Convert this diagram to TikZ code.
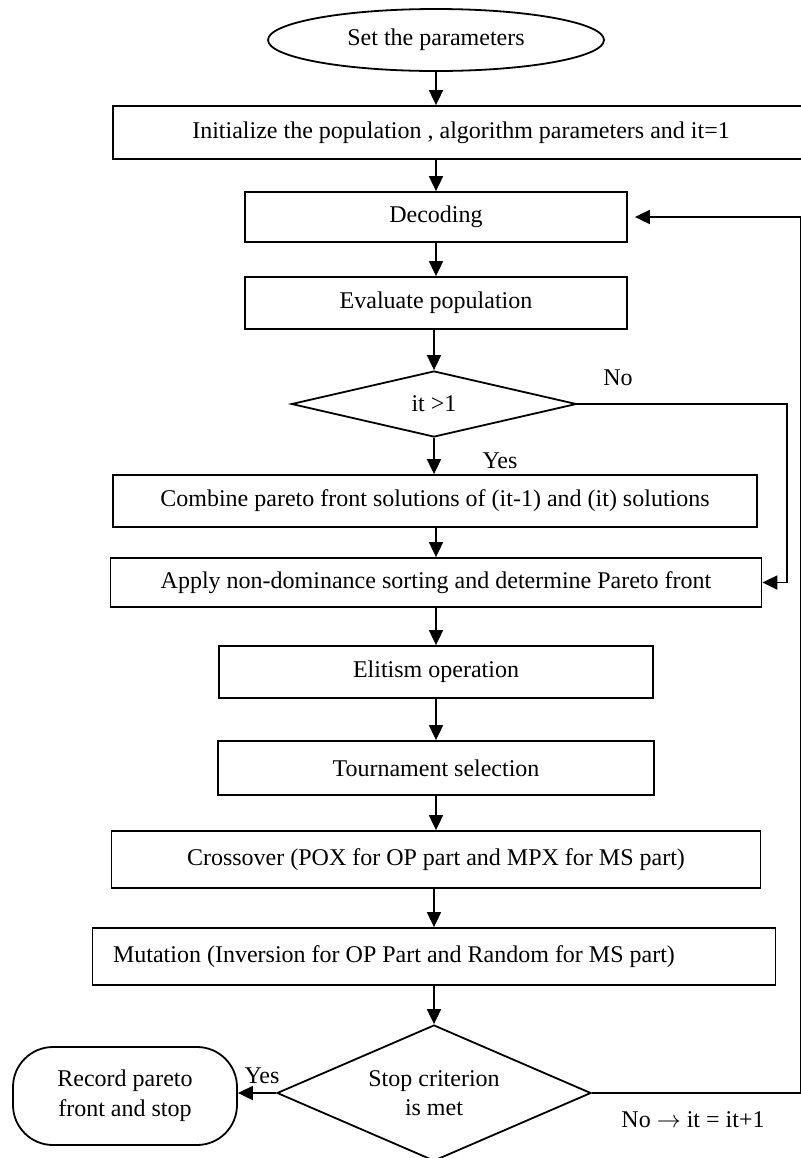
\documentclass[tikz,border=0pt]{standalone}
\usepackage{fontspec}
\setmainfont{Liberation Serif}
\usepackage{tikz}
\usetikzlibrary{shapes.geometric, arrows.meta, positioning}
\tikzset{
    startstop/.style={
        ellipse,
        minimum width=168pt,
        minimum height=31pt,
        inner sep=0pt,
        draw=black,
        line width=0.9pt
    },
    process/.style={
        rectangle,
        minimum height=26pt,
        inner sep=0pt,
        align=center, % teks di tengah
        draw=black,
        line width=0.9pt
    },
    decision/.style={
        diamond,
        aspect=2.3,
        inner sep=0pt,
        align=center,
        draw=black,
        line width=0.9pt
    },
    endbox/.style={
        rectangle,
        rounded corners=20pt,
        minimum width=112pt,
        minimum height=49pt,
        align=center,
        draw=black,
        line width=0.9pt
    },
    arrow/.style={
        line width=0.9pt,
        -{Triangle[length=7.5pt, width=7pt]}
    }
}

\begin{document}
\begin{tikzpicture}[
    x=0.5pt, y=-0.5pt,
    every node/.style={font=\fontsize{12}{14.8}\selectfont},
    label/.style={inner sep=0pt}
]
\useasboundingbox (0,0) rectangle (800,1158);

% main column
\node[startstop] (start) at (436,40) {Set the parameters};
\node[process, minimum width=348pt, minimum height=26.5pt] (init) at (461,132.5) {Initialize the population , algorithm parameters and it=1};
\node[process, minimum width=191pt, minimum height=25pt] (decode) at (436,217) {Decoding};
\node[process, minimum width=191pt] (eval) at (436,303) {Evaluate population};
\node[decision, aspect=4.3, minimum width=142.5pt, minimum height=33pt] (check) at (434,404) {it >1};
\node[process, minimum width=322pt] (combine) at (435,501) {Combine pareto front solutions of (it-1) and (it) solutions};
\node[process, minimum width=325.5pt, minimum height=24.5pt] (sort) at (436,582.5) {Apply non-dominance sorting and determine Pareto front};
\node[process, minimum width=217pt] (elite) at (436,672) {Elitism operation};
\node[process, minimum width=218pt, minimum height=27pt] (select) at (436,768) {Tournament selection};
\node[process, minimum width=324.5pt, minimum height=28.5pt] (cross) at (436,859.5) {Crossover (POX for OP part and MPX for MS part)};
\node[process, minimum width=341.5pt, minimum height=28.5pt] (mutate) at (434,956.5) {Mutation (Inversion for OP Part and Random for MS part)\hspace*{40pt}};
\node[decision, minimum width=157pt, minimum height=68pt] (stop) at (434,1093) {Stop criterion\\is met};
\node[endbox] (record) at (125,1096) {Record pareto\\front and stop};

% loop corners
\coordinate (noturn) at (787,404);
\coordinate (loopturn) at (801,1093);

% arrows
\draw[arrow] (start.south) -- (start.south |- init.north);
\draw[arrow] (init.south -| decode) -- (decode.north);
\draw[arrow] (decode) -- (eval);
\draw[arrow] (eval.south -| check) -- (check.north);
\draw[arrow] (check) -- (check |- combine.north);
\draw[arrow] (combine.south -| sort) -- (sort.north);
\draw[arrow] (sort) -- (elite);
\draw[arrow] (elite) -- (select);
\draw[arrow] (select) -- (cross);
\draw[arrow] (cross.south -| mutate) -- (mutate.north);
\draw[arrow] (mutate) -- (stop);
\draw[arrow] (stop.west) -- (stop.west -| record.east);
\draw[arrow] (check.east) -- (noturn) |- (sort.east);
\draw[arrow, shorten >=3.5pt] (stop.east) -- (loopturn) |- (decode.east);

% labels
\node[label] (noA) at (618,378) {No};
\node[label] (yesA) at (500,461) {Yes};
\node[label] (yesB) at (262,1076) {Yes};
\node[label] (noB) at (693,1120) {No $\rightarrow$ it = it+1};

\end{tikzpicture}
\end{document}
